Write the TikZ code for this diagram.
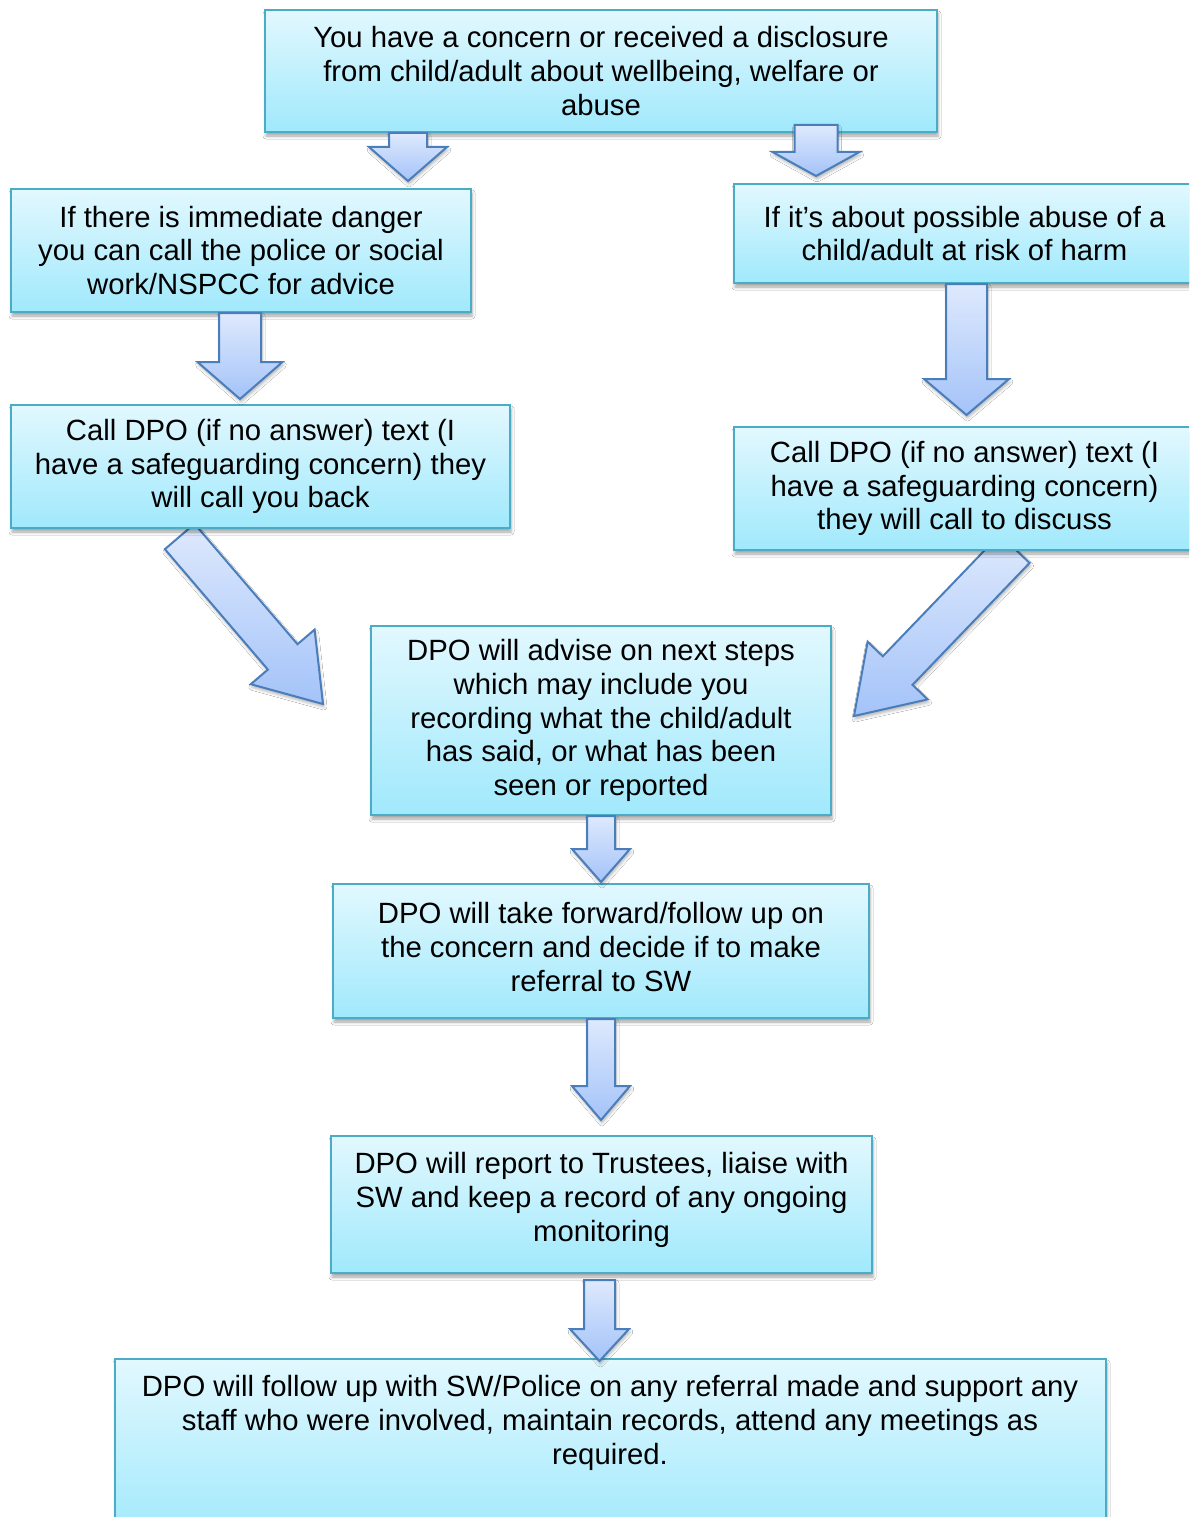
\documentclass[tikz,border=0pt]{standalone}
\usepackage{fontspec}
\setmainfont{Liberation Sans}
\usetikzlibrary{calc,shadows.blur}
\definecolor{boxtop}{RGB}{226,248,254}
\definecolor{boxbot}{RGB}{160,233,252}
\definecolor{boxline}{RGB}{75,172,198}
\definecolor{arrtop}{RGB}{222,233,253}
\definecolor{arrbot}{RGB}{164,195,249}
\definecolor{arrline}{RGB}{74,126,187}
\tikzset{
  flowbox/.style={draw=boxline, line width=2pt, top color=boxtop, bottom color=boxbot,
    rectangle, inner sep=0pt, align=center, font=\fontsize{29.3}{33.7}\selectfont,
    blur shadow={shadow xshift=1pt, shadow yshift=-4pt, shadow blur radius=3pt, shadow opacity=35}},
  flowtext/.style={align=center, inner sep=0pt, font=\fontsize{29.3}{33.7}\selectfont},
  arrowshape/.style={draw=arrline, line width=2pt, line join=miter, top color=arrtop, bottom color=arrbot,
    blur shadow={shadow xshift=1pt, shadow yshift=-3pt, shadow blur radius=3pt, shadow opacity=30}}
}
% tail, tip, half shaft width, half head width, head length
\newcommand\blockarrow[5]{%
  \coordinate (bat) at #1;
  \coordinate (bap) at #2;
  \coordinate (bah) at ($(bap)!#5!(bat)$);
  \path[arrowshape] ($(bat)!#3!90:(bap)$) -- ($(bah)!#3!90:(bap)$) -- ($(bah)!#4!90:(bap)$) -- (bap)
    -- ($(bah)!#4!-90:(bap)$) -- ($(bah)!#3!-90:(bap)$) -- ($(bat)!#3!-90:(bap)$) -- cycle;
}
\begin{document}
\begin{tikzpicture}[x=1pt,y=-1pt]
\useasboundingbox (0,0) rectangle (1189,1517);
\clip (0,0) rectangle (1189,1517);
\fill[white] (0,0) rectangle (1189,1517);

% anchor points of boxes, used by the diagonal arrows drawn beneath the boxes
\path (260.5,528) coordinate (l2s) (964.5,550) coordinate (r2s) (371,626) coordinate (c1nw) (831,626) coordinate (c1ne);
\blockarrow{($(l2s)+(-80.8,8.5)$)}{($(c1nw)+(-48,78)$)}{19.5pt}{42pt}{62pt}
\blockarrow{($(r2s)+(50.2,-1.3)$)}{($(c1ne)+(23,90)$)}{20.6pt}{41.6pt}{63pt}

% boxes
\node[flowbox, minimum width=672pt, minimum height=122pt] (top) at (601,71)
  {You have a concern or received a disclosure\\from child/adult about wellbeing, welfare or\\abuse};
\node[flowbox, minimum width=460pt, minimum height=123pt] (l1) at (241,250.5)
  {If there is immediate danger\\you can call the police or social\\work/NSPCC for advice};
\node[flowbox, minimum width=461pt, minimum height=99pt] (r1) at (964.5,233.5)
  {If it’s about possible abuse of a\\child/adult at risk of harm};
\node[flowbox, minimum width=499pt, minimum height=123pt] (l2) at (260.5,466.5)
  {Call DPO (if no answer) text (I\\have a safeguarding concern) they\\will call you back};
\node[flowbox, minimum width=461pt, minimum height=123pt] (r2) at (964.5,488.5)
  {Call DPO (if no answer) text (I\\have a safeguarding concern)\\they will call to discuss};
\node[flowbox, minimum width=460pt, minimum height=189pt] (c1) at (601,720.5)
  {DPO will advise on next steps\\which may include you\\recording what the child/adult\\has said, or what has been\\seen or reported};
\node[flowbox, minimum width=536pt, minimum height=134pt] (c2) at (601,951) {};
\node[flowtext] (c2t) at (601,947)
  {DPO will take forward/follow up on\\the concern and decide if to make\\referral to SW};
\node[flowbox, minimum width=541pt, minimum height=137pt] (c3) at (601.5,1204.5) {};
\node[flowtext] (c3t) at (601.5,1200)
  {DPO will report to Trustees, liaise with\\SW and keep a record of any ongoing\\monitoring};
\node[flowbox, minimum width=991pt, minimum height=180pt, anchor=north] (bot) at (610.5,1358) {};
\node[flowtext] (bott) at (610,1423)
  {DPO will follow up with SW/Police on any referral made and support any\\staff who were involved, maintain records, attend any meetings as\\required.};

% vertical arrows over the boxes
\blockarrow{($(top.south)+(-193,0)$)}{($(l1.north)+(167,-7)$)}{19pt}{39pt}{34pt}
\blockarrow{($(top.south)+(215,-8)$)}{($(r1.north)+(-148.5,-7)$)}{21.5pt}{43.5pt}{24pt}
\blockarrow{($(l1.south)+(-1,0)$)}{($(l2.north)+(-20.5,-5)$)}{21pt}{42.5pt}{37pt}
\blockarrow{($(r1.south)+(2,0)$)}{($(r2.north)+(2,-11)$)}{20.5pt}{42.5pt}{36pt}
\blockarrow{(c1.south)}{($(c2.north)+(0,-1)$)}{14pt}{29pt}{33pt}
\blockarrow{(c2.south)}{($(c3.north)+(-0.5,-15)$)}{14pt}{29pt}{34pt}
\blockarrow{($(c3.south)+(-2,6)$)}{($(bot.north)+(-11,3)$)}{15.5pt}{29.5pt}{32pt}
\end{tikzpicture}
\end{document}
